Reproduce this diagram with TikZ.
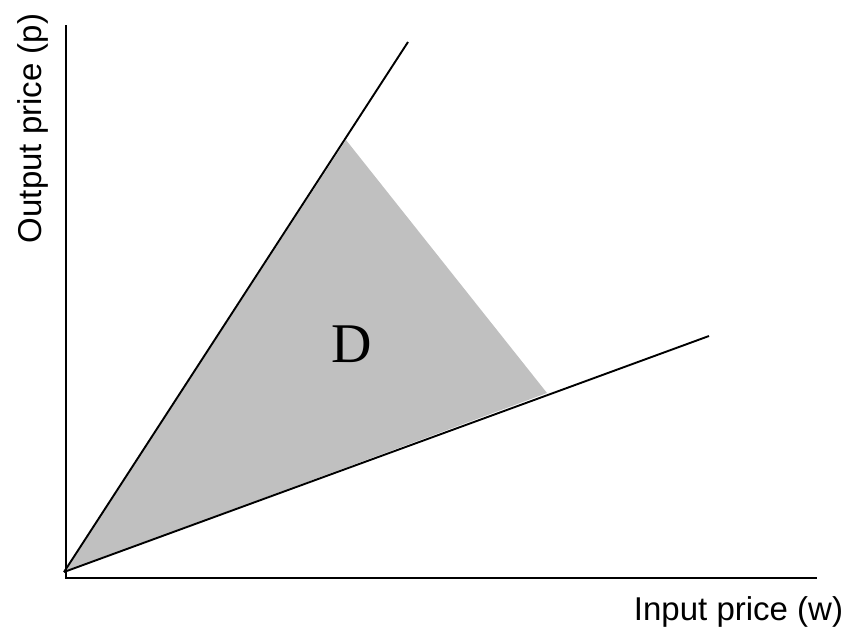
\documentclass[tikz,border=0pt]{standalone}
\usepackage{fontspec}
\setmainfont{Liberation Sans}
\newfontfamily\serifD{Liberation Serif}
\definecolor{regiongray}{RGB}{192,192,192}
\begin{document}
\begin{tikzpicture}[x=1pt,y=-1pt,
  axisline/.style={line width=1.9pt},
  rayline/.style={line width=1.9pt},
  axislabel/.style={font=\fontsize{33}{40}\selectfont, inner sep=0pt, anchor=base}]
\useasboundingbox (0,0) rectangle (852,632);
\coordinate (O) at (64,572);
\coordinate (ytop) at (66,25);
\coordinate (corner) at (66,578);
\coordinate (xend) at (817,578);
\coordinate (upper) at (408,42);
\coordinate (lower) at (709,336);
\coordinate (apex) at (346,140);
\coordinate (right) at (547,393);
\fill[regiongray] (O) -- (apex) -- (right) -- cycle;
\draw[axisline] (ytop) -- (corner) -- (xend);
\draw[rayline] (O) -- (upper);
\draw[rayline] (O) -- (lower);
\node[axislabel, rotate=90] (ylab) at (41,128.5) {Output price (p)};
\node[axislabel] (xlab) at (738.5,620) {Input price (w)};
\node[inner sep=0pt, anchor=base, font=\serifD\fontsize{56}{60}\selectfont] (D) at (352,362) {D};
\end{tikzpicture}
\end{document}
